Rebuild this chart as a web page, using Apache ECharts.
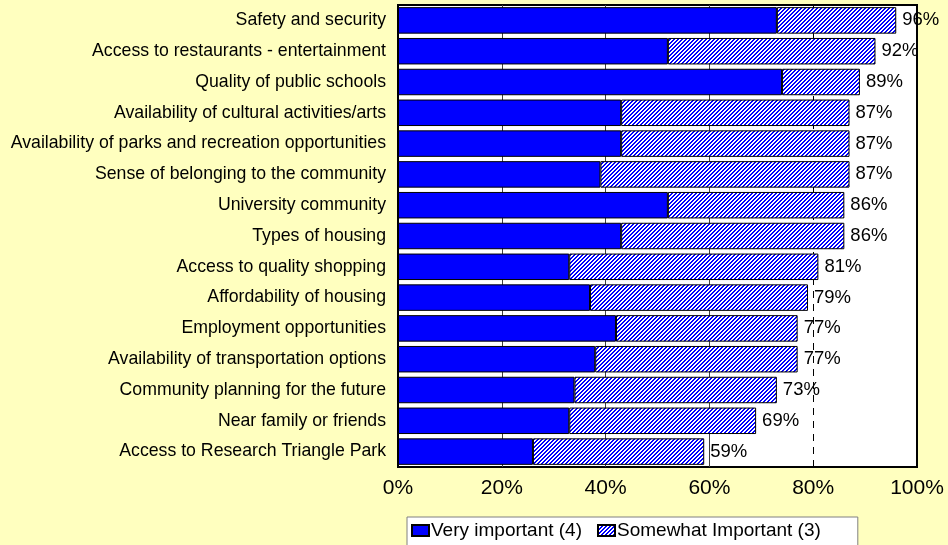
<!DOCTYPE html>
<html>
<head>
<meta charset="utf-8">
<script src="https://cdn.jsdelivr.net/npm/echarts@6/dist/echarts.min.js"></script>
<style>
  html, body { margin: 0; padding: 0; background: #FFFFBF; }
  #chart { width: 948px; height: 545px; }
</style>
</head>
<body>
<div id="chart"></div>
<script>
// Community attributes, top to bottom
const categories = [
  'Safety and security',
  'Access to restaurants - entertainment',
  'Quality of public schools',
  'Availability of cultural activities/arts',
  'Availability of parks and recreation opportunities',
  'Sense of belonging to the community',
  'University community',
  'Types of housing',
  'Access to quality shopping',
  'Affordability of housing',
  'Employment opportunities',
  'Availability of transportation options',
  'Community planning for the future',
  'Near family or friends',
  'Access to Research Triangle Park'
];

// Percent of respondents per rating
const veryImportant     = [73, 52, 74, 43, 43, 39, 52, 43, 33, 37, 42, 38, 34, 33, 26];
const somewhatImportant = [23, 40, 15, 44, 44, 48, 34, 43, 48, 42, 35, 39, 39, 36, 33];

// Axis ticks (percent)
const xTicks = [0, 20, 40, 60, 80, 100];
const gridValues = [20, 40, 60];
const targetValue = 80;

const seriesNames = ['Very important (4)', 'Somewhat Important (3)'];

// Fine diagonal hatch: blue stripes on white
function makeHatch() {
  const c = document.createElement('canvas');
  c.width = 4; c.height = 4;
  const ctx = c.getContext('2d');
  ctx.fillStyle = '#ffffff';
  ctx.fillRect(0, 0, 4, 4);
  ctx.fillStyle = '#0000ff';
  for (let y = 0; y < 4; y++) {
    for (let x = 0; x < 4; x++) {
      if ((x + y) % 4 < 2) ctx.fillRect(x, y, 1, 1);
    }
  }
  return c;
}

const FONT = 'Arial, "Liberation Sans", sans-serif';
const chart = echarts.init(document.getElementById('chart'), null, { renderer: 'canvas' });

const markLineData = gridValues.map(v => ({ xAxis: v }));
markLineData.push({ xAxis: targetValue, lineStyle: { type: [7, 6], color: '#000', width: 1 } });

chart.setOption({
  animation: false,
  backgroundColor: '#FFFFBF',
  textStyle: { fontFamily: FONT },
  grid: {
    left: 398, right: 31, top: 5, bottom: 78,
    show: true,
    backgroundColor: '#ffffff',
    borderColor: '#000000',
    borderWidth: 2,
    containLabel: false
  },
  legend: {
    left: 407,
    top: 517,
    data: seriesNames,
    icon: 'rect',
    backgroundColor: '#ffffff',
    borderColor: '#808080',
    borderWidth: 1,
    borderRadius: 0,
    padding: [4, 37, 8, 4],
    itemGap: 15,
    itemWidth: 17,
    itemHeight: 11,
    textStyle: { fontSize: 19, color: '#000', fontFamily: FONT, padding: [0, 0, 0, -3] }
  },
  xAxis: {
    type: 'value',
    min: xTicks[0],
    max: xTicks[xTicks.length - 1],
    interval: xTicks[1] - xTicks[0],
    axisLine: { show: false },
    axisTick: { show: false },
    splitLine: { show: false },
    axisLabel: {
      formatter: '{value}%',
      fontSize: 21,
      color: '#000',
      margin: 11,
      fontFamily: FONT
    }
  },
  yAxis: {
    type: 'category',
    inverse: true,
    data: categories,
    axisLine: { show: false },
    axisTick: { show: false },
    axisLabel: { fontSize: 17.7, color: '#000', margin: 12, fontFamily: FONT }
  },
  series: [
    {
      name: seriesNames[0],
      type: 'bar',
      stack: 'total',
      barCategoryGap: '14%',
      z: 2,
      data: veryImportant,
      itemStyle: { color: '#0000ff', borderColor: '#000000', borderWidth: 1 },
      markLine: {
        silent: true,
        z: 1,
        symbol: 'none',
        label: { show: false },
        lineStyle: { color: '#404040', width: 1, type: 'solid' },
        data: markLineData
      }
    },
    {
      name: seriesNames[1],
      type: 'bar',
      stack: 'total',
      barCategoryGap: '14%',
      z: 2,
      data: somewhatImportant,
      itemStyle: {
        color: { image: makeHatch(), repeat: 'repeat' },
        borderColor: '#000000',
        borderWidth: 1
      },
      label: {
        show: true,
        position: 'right',
        distance: 6,
        fontSize: 18.5,
        color: '#000',
        fontFamily: FONT,
        formatter: p => (veryImportant[p.dataIndex] + somewhatImportant[p.dataIndex]) + '%'
      }
    }
  ]
});
</script>
</body>
</html>
